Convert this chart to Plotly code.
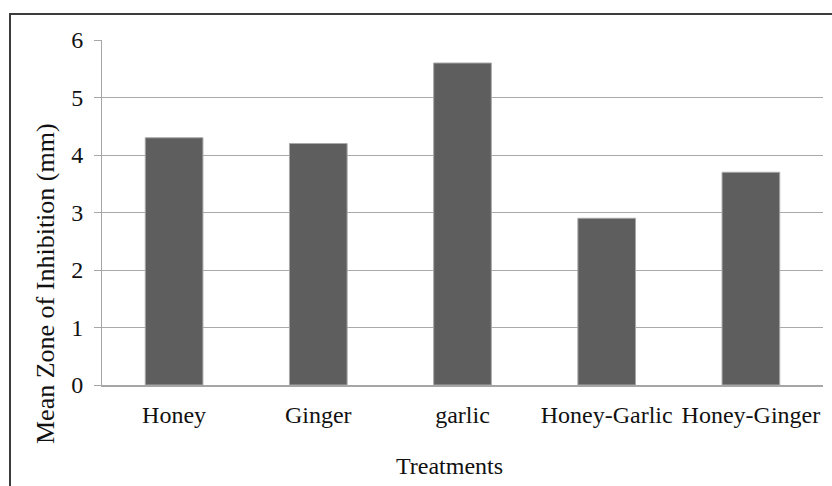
import plotly.graph_objects as go

treatments = ["Honey", "Ginger", "garlic", "Honey-Garlic", "Honey-Ginger"]
mean_zone_mm = [4.3, 4.2, 5.6, 2.9, 3.7]
y_ticks = [0, 1, 2, 3, 4, 5, 6]

W, H = 832, 486
L, R, T, B = 102, 9, 40, 101
pw, ph = W - L - R, H - T - B

def px_to_paper_x(px):
    return (px - L) / pw

def px_to_paper_y(py):
    return (H - B - py) / ph

serif = "Liberation Serif, Times New Roman, serif"

fig = go.Figure(
    go.Bar(
        x=treatments,
        y=mean_zone_mm,
        marker=dict(color="#5e5e5e", line=dict(color="#a8a8a8", width=1)),
        hoverinfo="x+y",
    )
)

fig.update_layout(
    width=W,
    height=H,
    margin=dict(l=L, r=R, t=T, b=B),
    paper_bgcolor="white",
    plot_bgcolor="white",
    bargap=0.6,
    showlegend=False,
    font=dict(family=serif, size=24, color="#111111"),
    xaxis=dict(
        showgrid=False,
        showline=True,
        linecolor="#a6a6a6",
        linewidth=2,
        ticks="",
        ticklabelstandoff=7,
        tickfont=dict(family=serif, size=24, color="#111111"),
    ),
    yaxis=dict(
        range=[0, 6],
        tickvals=y_ticks,
        showgrid=True,
        gridcolor="#aaaaaa",
        gridwidth=1,
        showline=True,
        linecolor="#a6a6a6",
        linewidth=1,
        ticks="outside",
        ticklen=7,
        tickcolor="#a6a6a6",
        ticklabelstandoff=6,
        zeroline=False,
        tickfont=dict(family=serif, size=24, color="#111111"),
    ),
    annotations=[
        dict(
            text="Mean Zone of Inhibition (mm)",
            textangle=-90,
            xref="paper", yref="paper",
            x=px_to_paper_x(45), y=px_to_paper_y(284),
            xanchor="center", yanchor="middle",
            showarrow=False,
            font=dict(family=serif, size=26, color="#111111"),
        ),
        dict(
            text="Treatments",
            xref="paper", yref="paper",
            x=px_to_paper_x(449), y=px_to_paper_y(466),
            xanchor="center", yanchor="middle",
            showarrow=False,
            font=dict(family=serif, size=24, color="#111111"),
        ),
    ],
    shapes=[
        dict(
            type="rect",
            xref="paper", yref="paper",
            x0=px_to_paper_x(10), x1=px_to_paper_x(900),
            y0=px_to_paper_y(600), y1=px_to_paper_y(14),
            line=dict(color="#3c3c3c", width=2),
            fillcolor="rgba(0,0,0,0)",
            layer="below",
        )
    ],
)

fig.write_html("out.html")
